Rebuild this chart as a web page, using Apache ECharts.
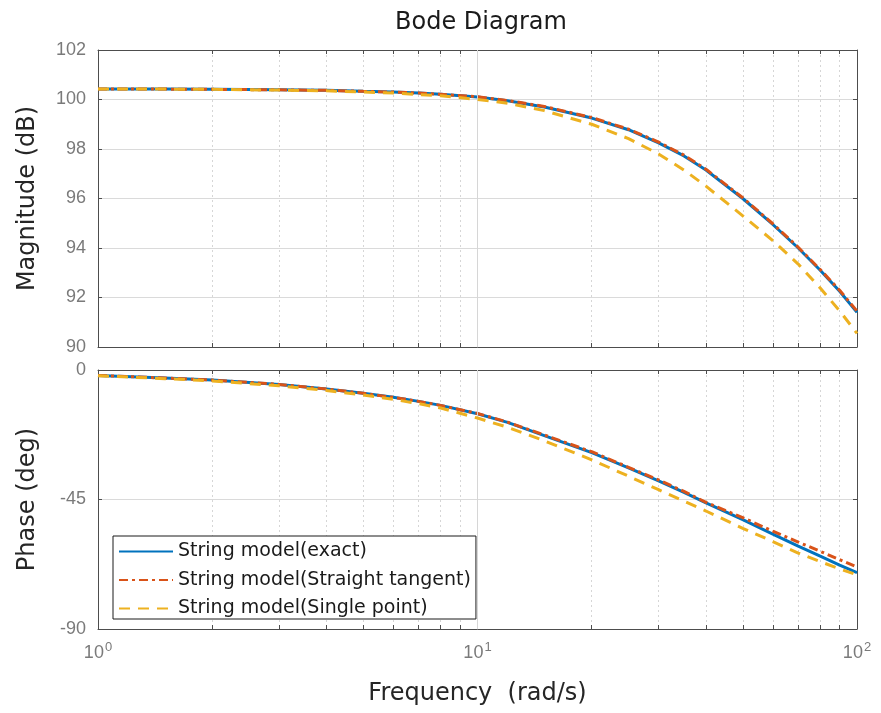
<!DOCTYPE html>
<html>
<head>
<meta charset="utf-8">
<title>Bode Diagram</title>
<script src="https://cdn.jsdelivr.net/npm/echarts@6/dist/echarts.min.js"></script>
<style>
    html, body { margin: 0; padding: 0; background: #fff; }
    #chart { width: 881px; height: 713px; }
</style>
</head>
<body>
<div id="chart"></div>
<script>
// ===== data =====
const freq = [1, 1.5, 2, 3, 4, 5, 6, 7, 8, 10, 12, 15, 20, 25, 30, 35, 40, 50, 60, 70, 80, 90, 100];

const magExact   = [100.42, 100.42, 100.41, 100.39, 100.37, 100.33, 100.30, 100.26, 100.21, 100.10, 99.95, 99.70, 99.25, 98.78, 98.25, 97.72, 97.15, 96.00, 94.95, 94.00, 93.10, 92.25, 91.40];
const magTangent = [100.42, 100.42, 100.41, 100.39, 100.37, 100.33, 100.30, 100.26, 100.21, 100.11, 99.96, 99.72, 99.27, 98.80, 98.28, 97.75, 97.18, 96.03, 94.98, 94.03, 93.13, 92.29, 91.45];
const magSingle  = [100.42, 100.42, 100.41, 100.38, 100.35, 100.30, 100.26, 100.20, 100.15, 100.00, 99.85, 99.55, 99.00, 98.42, 97.80, 97.15, 96.50, 95.30, 94.30, 93.35, 92.38, 91.46, 90.55];

const phaseExact   = [-1.9, -2.8, -3.5, -5.0, -6.6, -8.1, -9.5, -10.9, -12.3, -15.2, -18.2, -22.8, -28.7, -34.0, -38.5, -42.5, -46.2, -52.0, -57.0, -61.2, -64.7, -67.8, -70.4];
const phaseTangent = [-1.9, -2.8, -3.5, -5.0, -6.6, -8.1, -9.5, -10.9, -12.3, -15.1, -18.1, -22.6, -28.4, -33.8, -38.2, -42.2, -46.0, -51.3, -56.0, -59.8, -63.0, -65.9, -68.5];
const phaseSingle  = [-2.0, -3.0, -3.8, -5.5, -7.1, -8.7, -10.2, -11.7, -13.2, -16.7, -19.9, -24.6, -31.2, -36.9, -41.6, -45.6, -49.0, -55.0, -59.6, -63.6, -66.6, -69.1, -71.2];

const names = ["String model(exact)", "String model(Straight tangent)", "String model(Single point)"];
const colors = ["#0072BD", "#D95319", "#EDB120"];

// tick positions on the log frequency axis
const decadeTicks = [1, 10, 100];
const minorTicks = [1, 2, 3, 4, 5, 6, 7, 8, 9, 10, 20, 30, 40, 50, 60, 70, 80, 90, 100];

const FONT = "Liberation Sans, Arial, sans-serif";
const WIDE_FONT = "DejaVu Sans, sans-serif";
const AXIS_COLOR = "#4d4d4d";
const LABEL_COLOR = "#7a7a7a";

const chart = echarts.init(document.getElementById("chart"));

function pairs(vals) {
    return freq.map((f, i) => [f, vals[i]]);
}

// ========= axes =========
function freqAxis(gridIndex, position, withLabels) {
    return {
        type: "log",
        logBase: 10,
        gridIndex,
        position,
        min: 1,
        max: 100,
        axisLine: { show: true, onZero: false, lineStyle: { color: AXIS_COLOR, width: 1 } },
        axisTick: { show: true, inside: true, length: 4, customValues: minorTicks, lineStyle: { color: AXIS_COLOR } },
        minorTick: { show: false },
        splitLine: position === "bottom"
            ? { show: true, lineStyle: { color: "#d6d6d6", type: [2, 3], width: 1 } }
            : { show: false },
        axisLabel: withLabels ? {
            show: true,
            customValues: decadeTicks,
            margin: 12,
            formatter: v => "{b|10}{s|" + Math.round(Math.log10(v)) + "}",
            rich: {
                b: { fontSize: 18, color: LABEL_COLOR, fontFamily: FONT },
                s: { fontSize: 13, color: LABEL_COLOR, fontFamily: FONT, verticalAlign: "bottom", padding: [0, 0, 12, 1] }
            }
        } : { show: false },
        name: withLabels ? "Frequency  (rad/s)" : "",
        nameLocation: "middle",
        nameGap: 53,
        nameTextStyle: { fontSize: 24, color: "#262626", fontFamily: WIDE_FONT }
    };
}

function valAxis(gridIndex, position, min, max, interval, name) {
    const left = position === "left";
    return {
        type: "value",
        gridIndex,
        position,
        min,
        max,
        interval,
        axisLine: { show: true, onZero: false, lineStyle: { color: AXIS_COLOR, width: 1 } },
        axisTick: { show: true, inside: true, length: 4, lineStyle: { color: AXIS_COLOR } },
        splitLine: left ? { show: true, lineStyle: { color: "#dadada", width: 1 } } : { show: false },
        axisLabel: left ? { show: true, fontSize: 18, color: LABEL_COLOR, fontFamily: FONT, margin: 12 } : { show: false },
        name: left ? name : "",
        nameLocation: "middle",
        nameGap: 58,
        nameRotate: 90,
        nameTextStyle: { fontSize: 24, color: "#262626", fontFamily: WIDE_FONT }
    };
}

// ========= series =========
const lineStyles = [
    { width: 3, type: "solid" },
    { width: 3, type: [9, 4, 3, 4] },
    { width: 3, type: [11, 8] }
];

function curve(idx, xAxisIndex, yAxisIndex, vals) {
    return {
        name: names[idx],
        type: "line",
        xAxisIndex,
        yAxisIndex,
        data: pairs(vals),
        showSymbol: false,
        symbol: "none",
        smooth: false,
        color: colors[idx],
        lineStyle: Object.assign({ color: colors[idx] }, lineStyles[idx]),
        z: 3 + idx,
        animation: false
    };
}

// solid major grid line at 10^1 (the minor ones are dotted splitLines)
function decadeGrid(xAxisIndex, yAxisIndex) {
    return {
        type: "line",
        xAxisIndex,
        yAxisIndex,
        data: [],
        silent: true,
        markLine: {
            symbol: "none",
            silent: true,
            label: { show: false },
            lineStyle: { color: "#d6d6d6", type: "solid", width: 1 },
            data: decadeTicks.slice(1, -1).map(v => ({ xAxis: v }))
        },
        z: 1,
        animation: false
    };
}

chart.setOption({
    backgroundColor: "#fff",
    animation: false,
    title: {
        text: "Bode Diagram",
        left: 476,
        textAlign: "center",
        top: 6,
        textStyle: { fontSize: 24, fontWeight: "normal", color: "#1a1a1a", fontFamily: WIDE_FONT }
    },
    legend: {
        data: names,
        orient: "vertical",
        left: 113,
        top: 536,
        padding: [6, 5, 1, 5],
        itemGap: 9.5,
        itemWidth: 54,
        itemHeight: 14,
        itemStyle: { opacity: 0 },
        backgroundColor: "#fff",
        borderColor: "#1a1a1a",
        borderWidth: 1,
        textStyle: { fontSize: 19, color: "#1a1a1a", fontFamily: WIDE_FONT }
    },
    grid: [
        { left: 98, top: 50, width: 759, height: 297 },
        { left: 98, top: 370, width: 759, height: 259 }
    ],
    xAxis: [
        freqAxis(0, "bottom", false),
        freqAxis(0, "top", false),
        freqAxis(1, "bottom", true),
        freqAxis(1, "top", false)
    ],
    yAxis: [
        valAxis(0, "left", 90, 102, 2, "Magnitude (dB)"),
        valAxis(0, "right", 90, 102, 2, ""),
        valAxis(1, "left", -90, 0, 45, "Phase (deg)"),
        valAxis(1, "right", -90, 0, 45, "")
    ],
    series: [
        decadeGrid(0, 0),
        decadeGrid(2, 2),
        curve(0, 0, 0, magExact),
        curve(1, 0, 0, magTangent),
        curve(2, 0, 0, magSingle),
        curve(0, 2, 2, phaseExact),
        curve(1, 2, 2, phaseTangent),
        curve(2, 2, 2, phaseSingle)
    ]
});
</script>
</body>
</html>
